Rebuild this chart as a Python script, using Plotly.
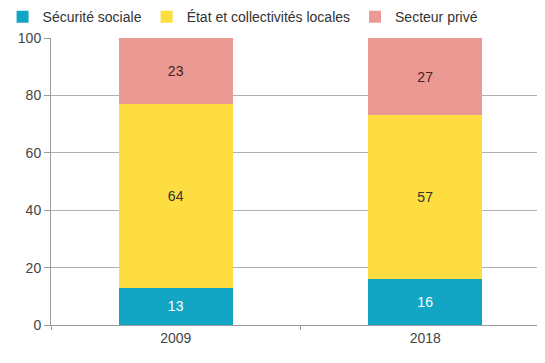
import plotly.graph_objects as go

years = ["2009", "2018"]
securite_sociale = [13, 16]
etat_collectivites = [64, 57]
secteur_prive = [23, 27]
y_ticks = [0, 20, 40, 60, 80, 100]

series = [
    ("Sécurité sociale", securite_sociale, "#12A5C4", "white"),
    ("État et collectivités locales", etat_collectivites, "#FDDD3F", "#333333"),
    ("Secteur privé", secteur_prive, "#EB9A93", "#4a2020"),
]

fig = go.Figure()
for name, vals, color, tcolor in series:
    fig.add_trace(go.Bar(
        name=name, x=years, y=vals, marker=dict(color=color, line=dict(width=0)),
        text=[str(v) for v in vals], textposition="inside", insidetextanchor="middle",
        textfont=dict(color=tcolor, size=14, family="Liberation Sans, Arial"),
        width=0.457,
    ))

fig.update_layout(
    barmode="stack",
    width=545, height=363,
    margin=dict(l=43, r=8, t=30, b=46, pad=0, autoexpand=False),
    paper_bgcolor="white", plot_bgcolor="white",
    font=dict(family="Liberation Sans, Arial", size=14, color="#444444"),
    showlegend=True,
    legend=dict(orientation="h", x=-0.098, xanchor="left", y=1.073, yanchor="middle",
                font=dict(size=14, color="#333333"),
                itemwidth=30, traceorder="normal", tracegroupgap=0,
                bgcolor="rgba(0,0,0,0)"),
)
fig.update_xaxes(
    range=[-0.5, 1.48], showgrid=False, showline=True, linecolor="#9a9a9a",
    linewidth=1, ticks="outside", tickson="boundaries", ticklen=4,
    tickcolor="#9a9a9a", tickfont=dict(size=14, color="#444444"),
)
fig.update_yaxes(
    range=[0, 100], tickvals=y_ticks, showgrid=True, gridcolor="#b0b0b0",
    gridwidth=1, showline=True, linecolor="#9a9a9a", ticks="outside",
    ticklen=6, tickcolor="#9a9a9a", tickfont=dict(size=14, color="#444444"),
    zeroline=False,
)
fig.write_html("out.html")
